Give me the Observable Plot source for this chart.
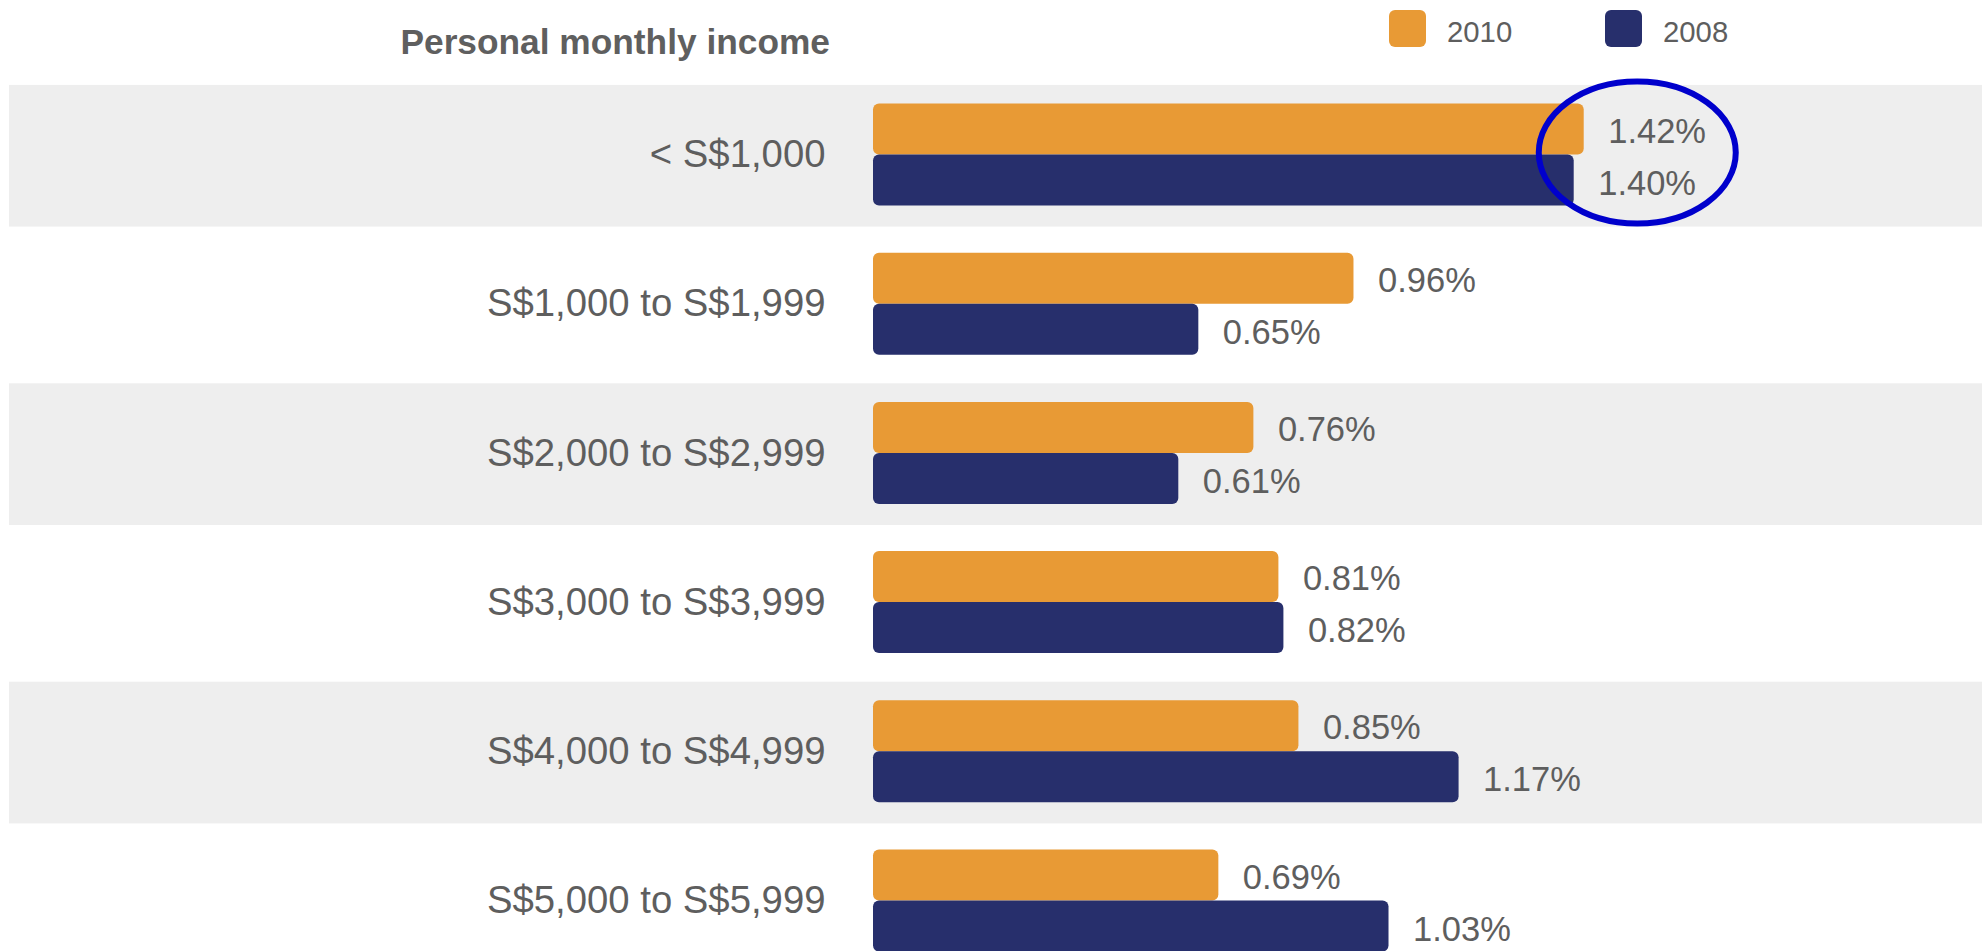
<!DOCTYPE html>
<html>
<head>
<meta charset="utf-8">
<script src="https://cdn.jsdelivr.net/npm/d3@7"></script>
<script src="https://cdn.jsdelivr.net/npm/@observablehq/plot@0.6"></script>
<style>
  html, body { margin: 0; padding: 0; background: #ffffff; }
  body { width: 1982px; height: 951px; overflow: hidden; font-family: "Liberation Sans", Arial, sans-serif; }
  #header { position: relative; width: 1982px; height: 70px; }
  #title { position: absolute; left: 0; width: 830px; top: 24.2px; text-align: right; font-weight: bold; font-size: 35.3px; line-height: 1; color: #5f5f5f; white-space: nowrap; }
  .sw { position: absolute; top: 10px; width: 37px; height: 37px; border-radius: 6px; }
  .lt { position: absolute; top: 17.2px; font-size: 29.3px; line-height: 1; color: #5e5e5e; }
  #chart svg { display: block; }
</style>
</head>
<body>
<div id="header"><div id="title"></div></div>
<div id="chart"></div>
<script>
// ---- data ----
const categories = ["< S$1,000", "S$1,000 to S$1,999", "S$2,000 to S$2,999", "S$3,000 to S$3,999", "S$4,000 to S$4,999", "S$5,000 to S$5,999"];
const series = ["2010", "2008"];
const values2010 = [1.42, 0.96, 0.76, 0.81, 0.85, 0.69];
const values2008 = [1.40, 0.65, 0.61, 0.82, 1.17, 1.03];
const colors = ["#E89A35", "#272F6C"];
const titleText = "Personal monthly income";
const highlight = {category: categories[0], x: 1.527};

const rows2010 = categories.map((c, i) => ({category: c, value: values2010[i]}));
const rows2008 = categories.map((c, i) => ({category: c, value: values2008[i]}));
const shaded = categories.filter((c, i) => i % 2 === 0);
const fmt = d => d.value.toFixed(2) + "%";

// ---- header (title + legend) ----
document.getElementById("title").textContent = titleText;
const header = document.getElementById("header");
const swatchLeft = [1389, 1605];
series.forEach((s, i) => {
  const sw = document.createElement("div");
  sw.className = "sw"; sw.style.left = swatchLeft[i] + "px"; sw.style.background = colors[i];
  header.appendChild(sw);
  const t = document.createElement("div");
  t.className = "lt"; t.style.left = (swatchLeft[i] + 58) + "px"; t.textContent = s;
  header.appendChild(t);
});

// ---- chart ----
const step = 149.2, half = step / 2, barH = 51;
const textFill = "#5e5e5e";
const chart = Plot.plot({
  width: 1982,
  height: 881,
  marginLeft: 0, marginRight: 0, marginTop: 0, marginBottom: 0,
  style: {fontFamily: "'Liberation Sans', Arial, sans-serif", background: "transparent", overflow: "visible"},
  x: {domain: [0, 2.2], range: [873, 873 + 2.2 * 500.5], axis: null},
  y: {type: "band", domain: categories, range: [9.9, 9.9 + 6 * step], padding: 0, round: false, axis: null},
  marks: [
    Plot.cell(shaded, {y: d => d, fill: "#eeeeee", insetLeft: 9, insetTop: 5, insetBottom: 2.5}),
    Plot.barX(rows2010, {x: "value", y: "category", fill: colors[0], insetTop: half - barH, insetBottom: half, rx: 6}),
    Plot.barX(rows2008, {x: "value", y: "category", fill: colors[1], insetTop: half, insetBottom: half - barH, rx: 6}),
    Plot.text(categories, {y: d => d, frameAnchor: "left", dx: 825, textAnchor: "end", fontSize: 38.3, fill: textFill}),
    Plot.text(rows2010, {x: "value", y: "category", text: fmt, textAnchor: "start", dx: 24, dy: -barH / 2 + 2, fontSize: 34.5, fill: textFill}),
    Plot.text(rows2008, {x: "value", y: "category", text: fmt, textAnchor: "start", dx: 24, dy: barH / 2 + 3, fontSize: 34.5, fill: textFill})
  ]
});

// annotation ellipse around the first row's labels
const xs = chart.scale("x"), ys = chart.scale("y");
d3.select(chart).append("ellipse")
  .attr("cx", xs.apply(highlight.x))
  .attr("cy", ys.apply(highlight.category) + ys.bandwidth / 2 - 2)
  .attr("rx", 98.5)
  .attr("ry", 71)
  .attr("fill", "none")
  .attr("stroke", "#0000CC")
  .attr("stroke-width", 6);

document.getElementById("chart").appendChild(chart);
</script>
</body>
</html>
